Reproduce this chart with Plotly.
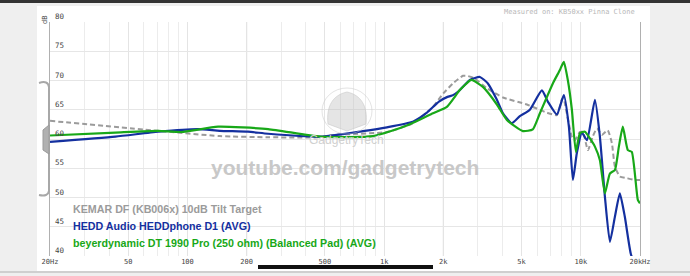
import math
import plotly.graph_objects as go

# ---------------- data ----------------
freq_target = [20, 71, 146, 257, 472, 560, 1033, 1400, 1772, 2000, 2240, 2516, 2636, 2860, 3330,
               4020, 5320, 6720, 7560, 8020, 8200, 8300, 9010, 9330, 9900, 10250, 10870, 11500,
               12080, 12800, 13700, 14390, 14910, 15800, 17150, 18800, 20000]
db_target = [63.1, 61.4, 60.5, 60.3, 60.3, 60.7, 61.2, 62.7, 65.5, 67.8, 69.5, 70.8, 70.8, 70.4, 68.7,
             67.1, 65.9, 64.5, 64.1, 66.8, 67.0, 66.1, 60.4, 59.8, 61.2, 61.2, 58.1, 60.4,
             61.8, 60.7, 61.5, 59.3, 55.3, 53.6, 53.3, 53.0, 53.0]

freq_hedd = [20, 43, 71, 113, 146, 203, 257, 472, 780, 1033, 1400, 1650, 1900, 2100, 2240, 2400,
             2730, 3070, 3370, 3745, 4020, 4460, 4900, 5510, 6340, 6800, 7560, 8200, 8700, 9120,
             9550, 10130, 10750, 11800, 12500, 13260, 14060, 14910, 15800, 16750, 17960, 20000]
db_hedd = [59.5, 60.4, 61.25, 61.7, 61.4, 61.25, 60.9, 60.4, 61.35, 62.0, 62.95, 64.5, 66.4, 67.2, 67.5, 68.2,
           70.1, 70.6, 69.5, 66.7, 64.4, 62.7, 63.9, 65.0, 68.3, 66.4, 64.2, 67.5, 62.1, 53.0,
           57.6, 61.1, 59.8, 66.7, 60.5, 50.2, 42.4, 46.7, 50.7, 46.7, 40.4, 36.0]

freq_dt = [20, 43, 71, 93, 143, 257, 472, 877, 1306, 1772, 2085, 2430, 2730, 2795, 3180, 3745, 4210,
           5070, 5700, 6195, 7210, 7830, 8200, 8600, 9010, 9440, 9900, 10500, 11130, 11800, 12500,
           13260, 14060, 14910, 15620, 16360, 17350, 18170, 19500, 20000]
db_dt = [60.6, 61.1, 61.4, 61.2, 62.1, 61.7, 60.4, 60.5, 62.3, 64.4, 65.5, 68.4, 70.0, 70.1, 68.9, 65.9, 63.25,
         61.35, 61.65, 64.4, 69.5, 71.8, 73.2, 70.0, 65.0, 57.8, 61.0, 61.25, 60.1, 58.7, 56.4,
         50.7, 54.1, 54.7, 58.7, 62.1, 58.1, 57.8, 49.6, 49.0]

series_names = ["KEMAR DF (KB006x) 10dB Tilt Target",
                "HEDD Audio HEDDphone D1 (AVG)",
                "beyerdynamic DT 1990 Pro (250 ohm) (Balanced Pad) (AVG)"]

x_tick_vals = [20, 50, 100, 200, 500, 1000, 2000, 5000, 10000, 20000]
x_tick_text = ["20Hz", "50", "100", "200", "500", "1k", "2k", "5k", "10k", "20kHz"]
x_minor_vals = [30, 40, 60, 70, 80, 90, 300, 400, 600, 700, 800, 900,
                3000, 4000, 6000, 7000, 8000, 9000]
y_tick_vals = [40, 45, 50, 55, 60, 65, 70, 75, 80]
y_tick_text = ["40", "45", "50", "55", "60", "65", "70", "75", "80"]

# ---------------- styling ----------------
W, H = 690, 276
L, R, T, B = 50, 640, 22, 256

def px(x):
    return (x - L) / (R - L)

def py(y):
    return (B - y) / (B - T)

col_target = "#9b9b9b"
col_hedd = "#14309f"
col_dt = "#18a818"

fig = go.Figure()
fig.add_trace(go.Scatter(x=freq_target, y=db_target, mode="lines", name=series_names[0],
                         line=dict(color=col_target, width=2, dash="5px,3px", shape="spline", smoothing=0.5)))
fig.add_trace(go.Scatter(x=freq_hedd, y=db_hedd, mode="lines", name=series_names[1],
                         line=dict(color=col_hedd, width=2.2, shape="spline", smoothing=0.5)))
fig.add_trace(go.Scatter(x=freq_dt, y=db_dt, mode="lines", name=series_names[2],
                         line=dict(color=col_dt, width=2.2, shape="spline", smoothing=0.5)))

shapes = []
# page background pieces
shapes.append(dict(type="rect", xref="paper", yref="paper", x0=px(37), x1=px(650), y0=py(271), y1=py(6),
                   fillcolor="white", line=dict(width=0), layer="below"))
shapes.append(dict(type="rect", xref="paper", yref="paper", x0=px(0), x1=px(690), y0=py(3), y1=py(0),
                   fillcolor="#333333", line=dict(width=0), layer="below"))
shapes.append(dict(type="rect", xref="paper", yref="paper", x0=px(0), x1=px(690), y0=py(273), y1=py(271),
                   fillcolor="#cfcfcf", line=dict(width=0), layer="below"))
# darker grid lines
for v in (200, 2000):
    shapes.append(dict(type="line", xref="x", yref="paper", x0=v, x1=v, y0=0, y1=1,
                       line=dict(color="#d2d2d2", width=1), layer="below"))
# logo (shield + orbit)
shapes.append(dict(type="path", xref="paper", yref="paper",
                   path="M {a},{b} C {c},{d} {e},{f} {g},{h} L {i},{j} L {k},{l} C {m},{n} {o},{p} {a},{b} Z".format(
                       a=px(347), b=py(92), c=px(361), d=py(95), e=px(368), f=py(106), g=px(366), h=py(124),
                       i=px(347), j=py(131), k=px(328), l=py(124), m=px(326), n=py(106), o=px(333), p=py(95)),
                   fillcolor="rgba(190,190,190,0.4)", line=dict(color="rgba(200,200,200,0.6)", width=1), layer="above"))
shapes.append(dict(type="circle", xref="paper", yref="paper", x0=px(322), x1=px(372), y0=py(134), y1=py(88),
                   line=dict(color="rgba(200,200,200,0.5)", width=1), layer="above"))
# y-scale slider at the left
shapes.append(dict(type="path", xref="paper", yref="paper",
                   path="M {a},{b} Q {c},{d} {e},{f} L {g},{h} Q {i},{j} {k},{l}".format(
                       a=px(39), b=py(83), c=px(48), d=py(80), e=px(49), f=py(87),
                       g=px(49), h=py(191), i=px(48), j=py(197), k=px(39), l=py(195)),
                   line=dict(color="#a8a8a8", width=2), layer="above"))
shapes.append(dict(type="path", xref="paper", yref="paper",
                   path="M {a},{b} L {c},{d} L {e},{f} L {g},{h} Z".format(
                       a=px(49), b=py(125), c=px(43), d=py(130), e=px(43), f=py(150), g=px(49), h=py(154)),
                   fillcolor="#b0b0b0", line=dict(color="#9a9a9a", width=1), layer="above"))
# scroll indicator
shapes.append(dict(type="line", xref="paper", yref="paper", x0=px(258), x1=px(433), y0=py(267), y1=py(267),
                   line=dict(color="#111111", width=4), layer="above"))

annotations = []
# y tick labels, sitting just above each grid line
for v, t in zip(y_tick_vals, y_tick_text):
    annotations.append(dict(text=t, xref="paper", yref="y", x=px(53), y=v, xanchor="left", yanchor="bottom",
                            showarrow=False, yshift=-1,
                            font=dict(family="DejaVu Sans Mono", size=7.5, color="#444444")))
legend_cols = [col_target, col_hedd, col_dt]
legend_y = [209, 226, 243]
for name, c, yy in zip(series_names, legend_cols, legend_y):
    annotations.append(dict(text=name, xref="paper", yref="paper", x=px(71), y=py(yy),
                            xanchor="left", yanchor="middle", showarrow=False,
                            font=dict(family="Liberation Sans", size=10.7, color=c, weight="bold")))
annotations.append(dict(text="youtube.com/gadgetrytech", xref="paper", yref="paper", x=px(345), y=py(167),
                        xanchor="center", yanchor="middle", showarrow=False,
                        font=dict(family="Liberation Sans", size=21, color="#c8c8c8", weight="bold")))
annotations.append(dict(text="GadgetryTech", xref="paper", yref="paper", x=px(347), y=py(140),
                        xanchor="center", yanchor="middle", showarrow=False,
                        font=dict(family="Liberation Sans", size=12, color="#d0d0d0")))
annotations.append(dict(text="Measured on: KB50xx Pinna Clone", xref="paper", yref="paper", x=px(637), y=py(12),
                        xanchor="right", yanchor="middle", showarrow=False,
                        font=dict(family="DejaVu Sans Mono", size=7, color="#b8b8b8")))
annotations.append(dict(text="dB", xref="paper", yref="paper", x=px(45), y=py(20), textangle=-90,
                        xanchor="center", yanchor="middle", showarrow=False,
                        font=dict(family="DejaVu Sans Mono", size=7, color="#444444")))

fig.update_layout(
    width=W, height=H,
    margin=dict(l=L, r=W - R, t=T, b=H - B, pad=0),
    paper_bgcolor="#efefef", plot_bgcolor="white",
    showlegend=False,
    shapes=shapes, annotations=annotations,
    xaxis=dict(type="log", range=[math.log10(19.995), math.log10(20005)],
               tickvals=x_tick_vals, ticktext=x_tick_text, ticks="",
               tickfont=dict(family="DejaVu Sans Mono", size=7, color="#444444"),
               showgrid=True, gridcolor="#e4e4e4", gridwidth=1, zeroline=False, showline=False,
               minor=dict(tickvals=x_minor_vals, showgrid=True, gridcolor="#ececec", gridwidth=1, ticks=""),
               automargin=False, fixedrange=True),
    yaxis=dict(range=[40, 80], tickvals=y_tick_vals, showticklabels=False, ticks="",
               showgrid=True, gridcolor="#e6e6e6", gridwidth=1, zeroline=False,
               showline=True, linecolor="#b0b0b0", linewidth=1, mirror=True,
               automargin=False, fixedrange=True),
)

fig.write_html("out.html")
